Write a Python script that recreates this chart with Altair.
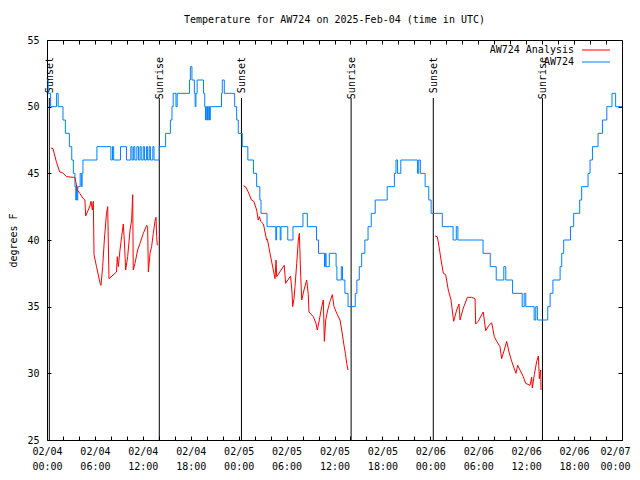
import json
import altair as alt
import pandas as pd

FONT = "DejaVu Sans Mono"

title_text = "Temperature for AW724 on 2025-Feb-04 (time in UTC)"
y_title = "degrees F"
series_names = ["AW724 Analysis", "AW724"]
series_colors = ["#ff0000", "#0080ff"]

# hours since 2025-02-04 00:00 UTC
obs_hours = [0.0, 0.15, 0.45, 1.2, 1.4, 2.0, 2.3, 2.8, 3.1, 3.3, 3.5, 3.6, 3.7, 3.75, 3.85, 4.15, 4.3, 4.4, 4.5,
             6.25, 8.0, 8.2, 8.35, 9.2, 9.95, 10.5, 10.65, 10.85, 11.0, 11.25, 11.45, 11.65, 11.8, 12.05, 12.2,
             12.45, 12.6, 12.8, 12.95, 13.25, 13.4, 14.05, 14.85, 15.45, 15.65, 15.8, 16.15, 16.3, 17.85, 17.95,
             18.15, 18.45, 18.55, 18.65, 18.8, 19.6, 19.75, 19.85, 19.95, 20.1, 20.2, 20.35, 20.45, 21.85, 21.95,
             22.2, 23.5, 23.75, 23.95, 24.45, 25.15, 25.85, 26.25, 26.65, 26.8, 27.55, 28.65, 28.75, 29.2, 29.3,
             30.15, 30.8, 32.05, 32.6, 33.75, 34.0, 34.75, 34.85, 34.95, 35.35, 36.2, 36.3, 36.85, 37.0, 37.3,
             37.7, 38.6, 38.8, 39.1, 39.4, 39.8, 40.2, 40.6, 41.1, 42.6, 43.5, 43.7, 43.9, 44.3, 46.4, 46.55,
             46.75, 47.35, 47.8, 48.1, 49.5, 50.85, 51.25, 51.45, 54.6, 55.5, 56.25, 57.2, 57.45, 58.3, 59.5,
             59.75, 59.95, 61.0, 61.2, 61.4, 62.7, 63.0, 63.35, 64.25, 64.45, 64.7, 65.55, 65.95, 66.7, 66.95,
             67.75, 68.0, 68.3, 69.0, 69.55, 70.1, 70.75, 71.2, 72.0]
obs_values = [52, 51, 50, 51, 50, 49, 48, 47, 46, 45, 44, 43, 44, 43, 44, 45, 44, 45, 46,
              47, 46, 47, 46, 47, 46, 47, 46, 47, 46, 47, 46, 47, 46, 47, 46,
              47, 46, 47, 46, 47, 46, 47, 48, 49, 50, 51, 50, 51, 52, 53,
              52, 51, 50, 51, 52, 51, 50, 49, 50, 49, 50, 49, 50, 51, 52,
              51, 50, 49, 48, 47, 46, 45, 44, 43, 42, 41, 40, 41, 40, 41,
              40, 41, 42, 41, 40, 39, 38, 39, 38, 39, 38, 37, 38, 37, 36,
              35, 36, 37, 38, 39, 40, 41, 42, 43, 44, 45, 46, 45, 46, 45, 46,
              45, 44, 43, 42, 41, 40, 41, 40, 39, 38, 37, 38, 37, 36, 35,
              36, 35, 34, 35, 34, 35, 36, 37, 38, 39, 40, 41, 42, 43, 44,
              45, 46, 47, 48, 49, 50, 51, 50, 50]

ana1_hours = [0.5, 0.75, 1.2, 1.6, 1.95, 2.45, 3.3, 3.5, 3.8, 4.1, 4.55, 4.75, 4.84, 5.38, 5.5, 5.68, 5.8, 5.89,
              6.2, 6.65, 6.76, 6.97, 7.18, 7.45, 7.6, 7.68, 7.76, 8.7, 8.8, 8.93, 9.14, 9.35, 9.55, 9.68, 9.85,
              10.1, 10.4, 10.6, 10.73, 10.8, 11.02, 11.35, 11.65, 12.06, 12.48, 12.6, 12.69, 12.9, 13.1, 13.31,
              13.52, 13.65, 13.73, 13.82]
ana1_values = [46.9, 46.85, 45.8, 45.1, 45.05, 44.75, 44.7, 44.7, 43.75, 43.5, 43.1, 43.0, 41.8, 42.55, 42.9,
               42.25, 42.9, 38.9, 38.0, 36.75, 36.6, 38.0, 40.0, 42.0, 42.5, 39.75, 37.1, 37.6, 38.75, 38.0,
               39.25, 40.25, 41.2, 40.0, 37.75, 38.75, 40.75, 41.5, 43.4, 37.75, 38.25, 39.25, 39.75, 40.5, 41.1,
               41.0, 37.6, 39.0, 39.5, 40.5, 41.4, 41.7, 40.25, 39.6]

ana2_hours = [24.6, 24.85, 25.2, 25.6, 25.9, 26.25, 26.45, 26.6, 26.75, 27.1, 27.5, 27.6, 27.92, 28.34, 28.55,
              28.68, 28.76, 29.7, 29.88, 30.5, 30.68, 30.76, 30.93, 31.05, 31.27, 31.47, 31.6, 31.77, 31.9,
              32.18, 32.52, 32.72, 32.8, 33.35, 33.68, 33.85, 34.1, 34.4, 34.6, 34.73, 34.9, 35.15, 35.44,
              35.73, 35.94, 36.28, 36.69, 36.94, 37.19, 37.36, 37.53, 37.69]
ana2_values = [44.05, 44.0, 43.6, 43.0, 42.9, 42.25, 41.5, 41.75, 41.4, 41.2, 40.0, 40.05, 39.0, 37.75, 37.1,
               38.5, 37.25, 38.1, 36.75, 37.3, 36.1, 35.0, 35.6, 36.5, 38.25, 40.0, 40.5, 37.25, 35.5,
               36.25, 37.0, 35.9, 34.6, 34.25, 33.75, 33.25, 34.0, 35.0, 35.5, 32.4, 34.0, 34.75, 35.4,
               35.9, 35.0, 34.5, 34.0, 33.1, 32.1, 31.5, 30.75, 30.25]

ana3_hours = [48.58, 48.87, 49.09, 49.34, 49.63, 49.92, 50.25, 50.59, 50.92, 51.3, 51.59, 51.72, 52.13, 52.64,
              53.18, 53.6, 53.68, 54.0, 54.43, 54.63, 54.93, 55.35, 55.68, 56.01, 56.31, 56.72, 56.93, 57.26,
              57.56, 57.85, 58.19, 58.48, 58.72, 58.94, 59.35, 59.64, 59.94, 60.48, 60.69, 60.77, 61.02, 61.32,
              61.53, 61.65, 61.82, 61.86]
ana3_values = [40.3, 40.25, 39.5, 38.5, 37.5, 37.4, 36.25, 35.5, 33.9, 34.75, 35.2, 34.0, 34.9, 35.7,
               35.7, 35.6, 33.7, 33.9, 34.4, 34.6, 33.2, 33.6, 33.8, 32.75, 32.4, 32.0, 31.1, 31.75,
               32.4, 31.6, 30.9, 30.4, 30.0, 30.6, 30.1, 29.75, 29.25, 29.1, 29.7, 28.9, 29.9, 30.9,
               31.3, 29.6, 30.25, 28.75]

event_hours = [0.29, 14.06, 24.35, 38.08, 48.37, 62.04]
event_labels = ["Sunset", "Sunrise", "Sunset", "Sunrise", "Sunset", "Sunrise"]

x_tick_values = list(range(0, 73, 2))
x_tick_labels = [["02/04", "00:00"], ["02/04", "06:00"], ["02/04", "12:00"], ["02/04", "18:00"],
                 ["02/05", "00:00"], ["02/05", "06:00"], ["02/05", "12:00"], ["02/05", "18:00"],
                 ["02/06", "00:00"], ["02/06", "06:00"], ["02/06", "12:00"], ["02/06", "18:00"],
                 ["02/07", "00:00"]]
y_tick_values = [25, 30, 35, 40, 45, 50, 55]

W, H = 575, 400

obs_df = pd.DataFrame({"hour": obs_hours, "value": obs_values, "series": series_names[1]})
ana_df = pd.concat([
    pd.DataFrame({"hour": h, "value": v, "night": i, "series": series_names[0]})
    for i, (h, v) in enumerate([(ana1_hours, ana1_values), (ana2_hours, ana2_values), (ana3_hours, ana3_values)])
])
ev_df = pd.DataFrame({"hour": event_hours, "label": event_labels})

xs = alt.Scale(domain=[0, 72], nice=False, zero=False)
ys = alt.Scale(domain=[25, 55], nice=False, zero=False)
cs = alt.Scale(domain=series_names, range=series_colors)

label_expr = "datum.value % 6 == 0 ? " + json.dumps(x_tick_labels) + "[datum.value / 6] : ''"

ax_bottom = alt.Axis(orient="bottom", values=x_tick_values, labelExpr=label_expr, tickSize=4, offset=-4,
                     domain=False, grid=False, title=None, labelPadding=6, labelLineHeight=15,
                     labelFont=FONT, labelFontSize=10, labelColor="black", tickColor="black",
                     labelOverlap=False, labelBound=False, labelFlush=False,
                     labelOffset={"condition": {"test": "datum.value >= 72", "value": -7}, "value": 0})
ax_top = alt.Axis(orient="top", values=x_tick_values, labels=False, tickSize=4, offset=-4,
                  domain=False, grid=False, title=None, tickColor="black")
ax_left = alt.Axis(orient="left", values=y_tick_values, tickSize=4, offset=-4, domain=False, grid=False,
                   title=y_title, labelPadding=8, labelFont=FONT, labelFontSize=10, labelColor="black",
                   tickColor="black", titleFont=FONT, titleFontSize=10, titleFontWeight="normal",
                   titleColor="black", titlePadding=8)
ax_right = alt.Axis(orient="right", values=y_tick_values, labels=False, tickSize=4, offset=-4,
                    domain=False, grid=False, title=None, tickColor="black")

rules = alt.Chart(ev_df).mark_rule(color="black", strokeWidth=1).encode(
    x=alt.X("hour:Q", scale=xs, axis=None),
    y=alt.value(58), y2=alt.value(H))
ev_text = alt.Chart(ev_df).mark_text(angle=270, align="right", baseline="middle", font=FONT,
                                     fontSize=10, color="black", dy=1).encode(
    x=alt.X("hour:Q", scale=xs, axis=None), y=alt.value(17), text="label:N")

obs_line = alt.Chart(obs_df).mark_line(interpolate="step-after", strokeWidth=1).encode(
    x=alt.X("hour:Q", scale=xs, axis=ax_bottom),
    y=alt.Y("value:Q", scale=ys, axis=ax_left),
    color=alt.Color("series:N", scale=cs, legend=None))
ana_line = alt.Chart(ana_df).mark_line(strokeWidth=1).encode(
    x=alt.X("hour:Q", scale=xs, axis=ax_top),
    y=alt.Y("value:Q", scale=ys, axis=ax_right),
    color=alt.Color("series:N", scale=cs, legend=None),
    detail="night:N")

legend_layers = []
for i, (name, col) in enumerate(zip(series_names, series_colors)):
    d = pd.DataFrame({"series": [name]})
    legend_layers.append(alt.Chart(d).mark_text(align="right", baseline="middle", font=FONT, fontSize=10,
                                                color="black").encode(
        x=alt.value(527), y=alt.value(10 + 12 * i), text="series:N"))
    legend_layers.append(alt.Chart(d).mark_rule(color=col, strokeWidth=1).encode(
        x=alt.value(535), x2=alt.value(563), y=alt.value(10 + 12 * i)))

chart = alt.layer(rules, ev_text, obs_line, ana_line, *legend_layers).resolve_axis(
    x="independent", y="independent"
).properties(
    width=W, height=H,
    title=alt.Title(title_text, font=FONT, fontSize=10, fontWeight="normal", color="black",
                    anchor="middle", offset=10),
    autosize=alt.AutoSizeParams(type="none"),
    padding={"left": 39, "top": 32, "right": 10, "bottom": 32},
    background="white",
).configure_view(stroke="black", strokeWidth=1)

chart.save("out.html", embed_options={"renderer": "svg", "actions": False})
